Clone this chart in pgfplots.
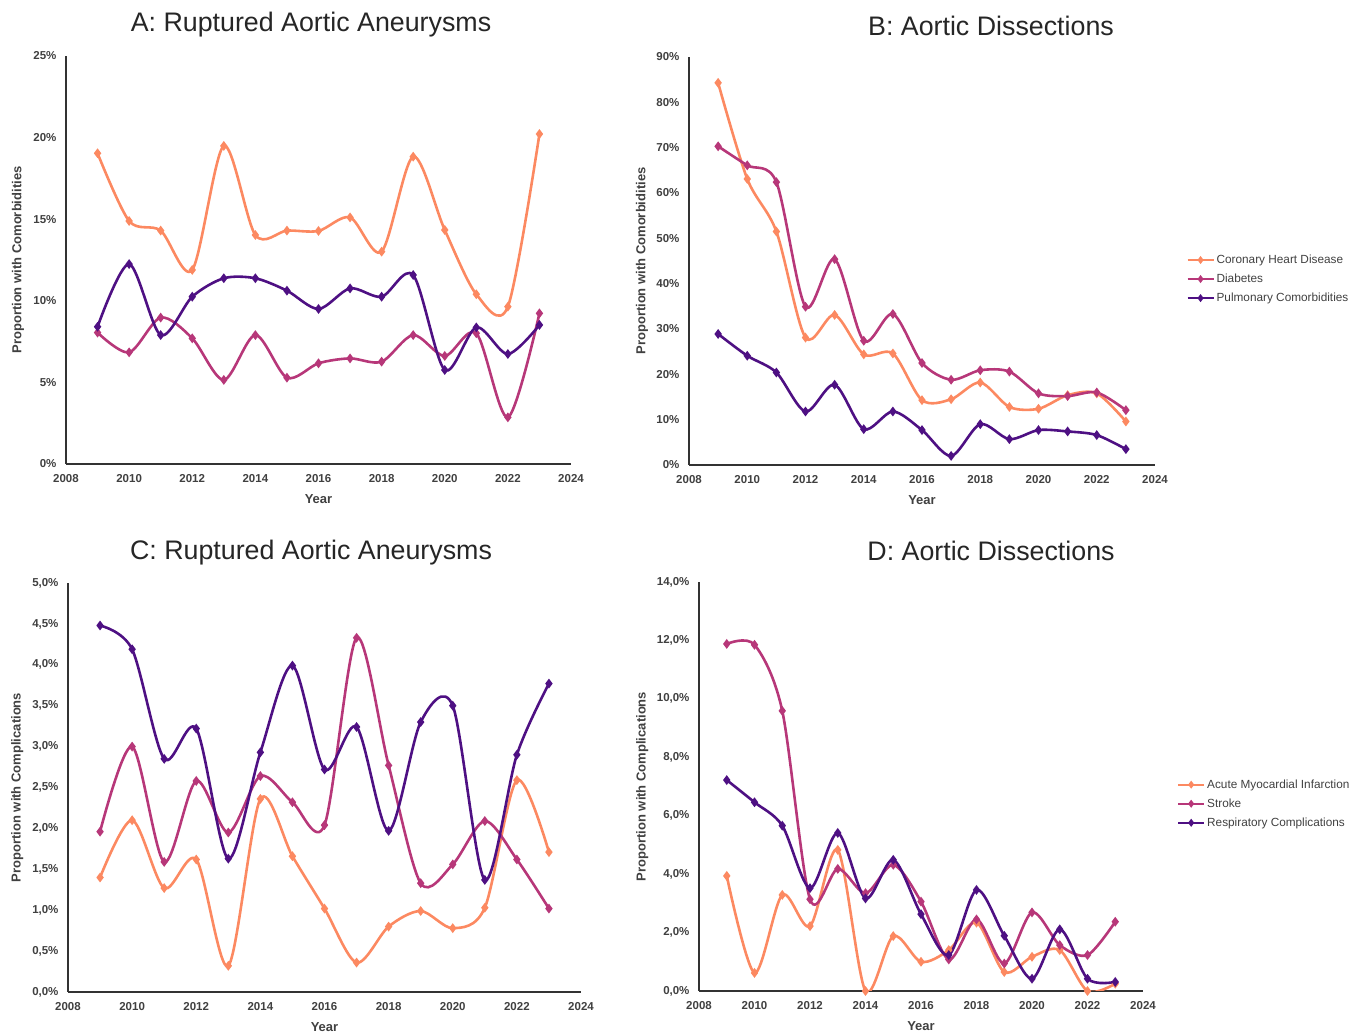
\documentclass[border=0pt]{standalone}
\usepackage{pgfplots}
\pgfplotsset{compat=1.18}
\usepackage{pgfplotstable}
\usepackage{fontspec}
\setmainfont{Liberation Sans}
\setsansfont{Liberation Sans}

\definecolor{cOr}{HTML}{FC8961}
\definecolor{cMa}{HTML}{B73779}
\definecolor{cPu}{HTML}{4E1083}
\definecolor{axgray}{HTML}{333333}
\definecolor{txgray}{HTML}{404040}

\pgfplotstableread{
year a b c
2009 19.04 8.05 8.41
2010 14.89 6.84 12.25
2011 14.30 8.97 7.90
2012 11.89 7.70 10.25
2013 19.49 5.15 11.38
2014 14.03 7.90 11.38
2015 14.30 5.29 10.62
2016 14.28 6.17 9.50
2017 15.11 6.47 10.76
2018 13.01 6.27 10.25
2019 18.83 7.90 11.58
2020 14.34 6.62 5.76
2021 10.40 8.01 8.37
2022 9.64 2.86 6.74
2023 20.22 9.23 8.52
}\tabA
\pgfplotstableread{
year a b c
2009 84.3 70.3 28.9
2010 63.1 66.1 24.1
2011 51.5 62.4 20.4
2012 28.1 34.9 11.8
2013 33.1 45.4 17.7
2014 24.4 27.4 7.9
2015 24.6 33.3 11.8
2016 14.3 22.5 7.7
2017 14.5 18.8 2.0
2018 18.2 20.9 9.0
2019 12.8 20.6 5.7
2020 12.4 15.8 7.7
2021 15.4 15.2 7.4
2022 15.8 16.0 6.6
2023 9.6 12.1 3.5
}\tabB
\pgfplotstableread{
year a b c
2009 1.40 1.96 4.48
2010 2.10 3.00 4.19
2011 1.27 1.59 2.85
2012 1.62 2.58 3.22
2013 0.32 1.95 1.63
2014 2.36 2.64 2.93
2015 1.66 2.32 3.99
2016 1.02 2.04 2.72
2017 0.36 4.33 3.24
2018 0.80 2.77 1.97
2019 0.99 1.33 3.30
2020 0.78 1.56 3.50
2021 1.03 2.09 1.37
2022 2.59 1.62 2.90
2023 1.71 1.02 3.77
}\tabC
\pgfplotstableread{
year a b c
2009 3.94 11.88 7.22
2010 0.62 11.85 6.46
2011 3.29 9.59 5.66
2012 2.22 3.14 3.52
2013 4.83 4.18 5.41
2014 0.00 3.35 3.17
2015 1.88 4.32 4.49
2016 1.00 3.06 2.63
2017 1.40 1.08 1.23
2018 2.34 2.45 3.46
2019 0.65 0.94 1.89
2020 1.17 2.69 0.42
2021 1.40 1.57 2.11
2022 0.00 1.23 0.42
2023 0.25 2.37 0.31
}\tabD

\pgfplotsset{
  panel/.style={
    scale only axis,
    anchor=south west,
    axis x line=bottom, axis y line=left,
    axis line style={-, line width=2pt, draw=axgray},
    xmin=2008, xmax=2024, ymin=0,
    xtick={2008,2010,...,2024},
    major tick length=0pt,
    tick style={draw=none},
    /pgf/number format/assume math mode=true,
    /pgf/number format/1000 sep={},
    xticklabel style={font=\bfseries\fontsize{11.5}{13}\selectfont, text=txgray, yshift=-7pt},
    yticklabel style={font=\bfseries\fontsize{11.5}{13}\selectfont, text=txgray, xshift=-6pt},
    xlabel={Year},
    xlabel style={font=\bfseries\fontsize{13}{15}\selectfont, text=txgray, at={(axis description cs:0.5,-0.085)}, anchor=center},
    ylabel style={font=\bfseries\fontsize{13}{15}\selectfont, text=txgray, at={(axis description cs:-0.095,0.5)}, anchor=center, rotate=0},
    every axis plot/.append style={line width=2.6pt, smooth, tension=0.5, mark=diamond*, mark size=2.8pt, mark options={solid}},
    legend cell align=left,
    legend style={draw=none, fill=none, font=\fontsize{11.8}{13}\selectfont, text=txgray, row sep=5pt, inner sep=2pt},
    legend image code/.code={\draw[mark repeat=2,mark phase=2,#1,line width=2pt, mark size=2.4pt] plot coordinates {(0pt,0pt) (13pt,0pt) (26pt,0pt)};},
  },
  oc/.style={draw=cOr, mark options={fill=cOr, draw=cOr}},
  mc/.style={draw=cMa, mark options={fill=cMa, draw=cMa}},
  pc/.style={draw=cPu, mark options={fill=cPu, draw=cPu}},
}

\begin{document}
\begin{tikzpicture}
\useasboundingbox (0,0) rectangle (1354pt,1032pt);

% Titles
\node[font=\fontsize{26.8}{30}\selectfont, text=black!85] at (311pt,1007pt) {A: Ruptured Aortic Aneurysms};
\node[font=\fontsize{26.8}{30}\selectfont, text=black!85] at (991pt,1006pt) {B: Aortic Dissections};
\node[font=\fontsize{26.8}{30}\selectfont, text=black!85] at (311pt,479pt) {C: Ruptured Aortic Aneurysms};
\node[font=\fontsize{26.8}{30}\selectfont, text=black!85] at (991pt,481pt) {D: Aortic Dissections};

% Panel A
\begin{axis}[panel, at={(66pt,568pt)}, width=505pt, height=408pt,
  ymax=25, ytick={0,5,...,25}, yticklabels={0\%,5\%,10\%,15\%,20\%,25\%},
  ylabel={Proportion with Comorbidities}]
\addplot[oc] table[x=year,y=a]{\tabA};
\addplot[mc] table[x=year,y=b]{\tabA};
\addplot[pc] table[x=year,y=c]{\tabA};
\end{axis}

% Panel B
\begin{axis}[panel, at={(689pt,567pt)}, width=466pt, height=408pt,
  ymax=90, ytick={0,10,...,90}, yticklabels={0\%,10\%,20\%,30\%,40\%,50\%,60\%,70\%,80\%,90\%},
  ylabel={Proportion with Comorbidities},
  ylabel style={at={(axis description cs:-0.101,0.5)}},
  legend style={at={(axis description cs:1.063,0.525)}, anchor=north west}]
\addplot[oc] table[x=year,y=a]{\tabB};
\addlegendentry{Coronary Heart Disease}
\addplot[mc] table[x=year,y=b]{\tabB};
\addlegendentry{Diabetes}
\addplot[pc] table[x=year,y=c]{\tabB};
\addlegendentry{Pulmonary Comorbidities}
\end{axis}

% Panel C
\begin{axis}[panel, at={(68pt,40pt)}, width=513pt, height=409pt,
  ymax=5, ytick={0,0.5,...,5.01}, yticklabels={{0,0\%},{0,5\%},{1,0\%},{1,5\%},{2,0\%},{2,5\%},{3,0\%},{3,5\%},{4,0\%},{4,5\%},{5,0\%}},
  ylabel={Proportion with Complications},
  ylabel style={at={(axis description cs:-0.099,0.5)}}]
\addplot[oc] table[x=year,y=a]{\tabC};
\addplot[mc] table[x=year,y=b]{\tabC};
\addplot[pc] table[x=year,y=c]{\tabC};
\end{axis}

% Panel D
\begin{axis}[panel, at={(699pt,41pt)}, width=444pt, height=409pt,
  ymax=14, ytick={0,2,...,14}, yticklabels={{0,0\%},{2,0\%},{4,0\%},{6,0\%},{8,0\%},{10,0\%},{12,0\%},{14,0\%}},
  ylabel={Proportion with Complications},
  ylabel style={at={(axis description cs:-0.128,0.5)}},
  legend style={at={(axis description cs:1.072,0.527)}, anchor=north west}]
\addplot[oc] table[x=year,y=a]{\tabD};
\addlegendentry{Acute Myocardial Infarction}
\addplot[mc] table[x=year,y=b]{\tabD};
\addlegendentry{Stroke}
\addplot[pc] table[x=year,y=c]{\tabD};
\addlegendentry{Respiratory Complications}
\end{axis}
\end{tikzpicture}
\end{document}
